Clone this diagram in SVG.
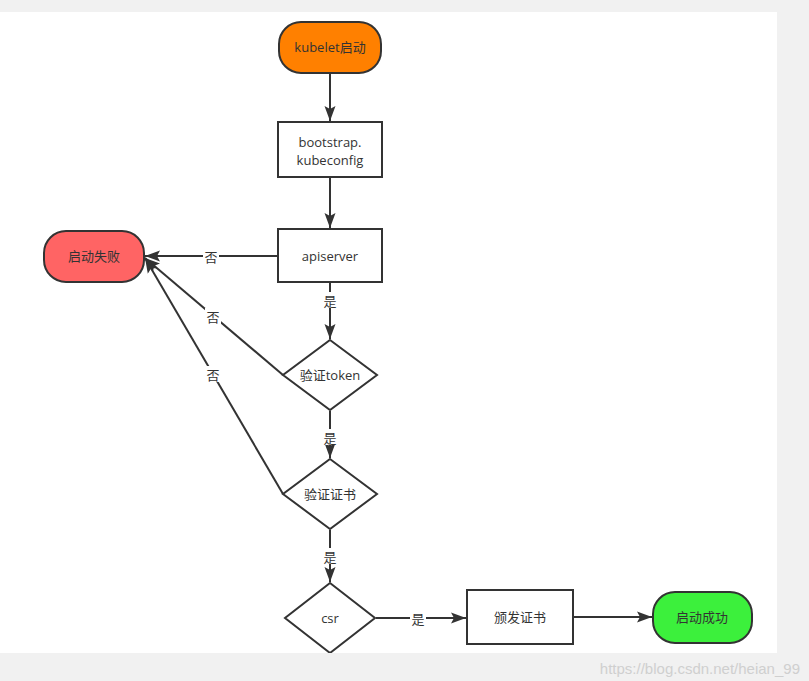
<svg xmlns="http://www.w3.org/2000/svg" width="809" height="681" viewBox="0 0 809 681">
<defs>
<marker id="arr" markerUnits="userSpaceOnUse" markerWidth="16" markerHeight="12" refX="15" refY="6" orient="auto" viewBox="0 0 16 12">
<path d="M0,0.5 L15,6 L0,11.5 L3,6 z" fill="#333"/>
</marker>
<style>
.ln{fill:none;stroke:#333;stroke-width:2;marker-end:url(#arr)}
.bx{stroke:#333;stroke-width:2}
.t{font-family:"Open Sans","Noto Sans","Noto Sans CJK SC",sans-serif;font-size:13px;fill:#333;text-anchor:middle;dominant-baseline:central}
.lb{font-family:"Noto Sans CJK SC","Noto Sans",sans-serif;font-size:13px;fill:#333;text-anchor:middle;dominant-baseline:central}
</style>
</defs>
<rect x="0" y="0" width="809" height="681" fill="#f1f1f1"/>
<rect x="0" y="12" width="777" height="641" fill="#ffffff"/>
<g id="connectors">
<line class="ln" x1="330" y1="74" x2="330" y2="121"/>
<line class="ln" x1="330" y1="178" x2="330" y2="228"/>
<line class="ln" x1="330" y1="283" x2="330" y2="339"/>
<line class="ln" x1="330" y1="411" x2="330" y2="458"/>
<line class="ln" x1="330" y1="530" x2="330" y2="582"/>
<line class="ln" x1="376" y1="618" x2="466" y2="618"/>
<line class="ln" x1="574" y1="617" x2="652" y2="617"/>
<line class="ln" x1="277" y1="256" x2="145" y2="256"/>
<line class="ln" x1="283" y1="375" x2="145" y2="258"/>
<line class="ln" x1="283" y1="494" x2="145" y2="258"/>
<g>
<rect x="322" y="292" width="16" height="16" fill="#fff"/><text class="lb" x="330" y="300">是</text>
<rect x="322" y="429" width="16" height="16" fill="#fff"/><text class="lb" x="330" y="437">是</text>
<rect x="322" y="548" width="16" height="16" fill="#fff"/><text class="lb" x="330" y="556">是</text>
<rect x="410" y="610" width="16" height="16" fill="#fff"/><text class="lb" x="418" y="618">是</text>
<rect x="203" y="248" width="16" height="16" fill="#fff"/><text class="lb" x="211" y="256">否</text>
<rect x="205" y="308" width="16" height="16" fill="#fff"/><text class="lb" x="213" y="316">否</text>
<rect x="205" y="366" width="16" height="16" fill="#fff"/><text class="lb" x="213" y="374">否</text>
</g>
</g>
<g id="kubelet">
<rect class="bx" x="279" y="22" width="102" height="51" rx="22" ry="22" fill="#ff8000"/>
<text class="t" x="330" y="47">kubelet启动</text>
</g>
<g id="bootstrap">
<rect class="bx" x="278" y="122" width="104" height="55" fill="#fff"/>
<text class="t" x="330" y="142">bootstrap.</text>
<text class="t" x="330" y="160">kubeconfig</text>
</g>
<g id="apiserver">
<rect class="bx" x="278" y="229" width="104" height="53" fill="#fff"/>
<text class="t" x="330" y="256">apiserver</text>
</g>
<g id="fail">
<rect class="bx" x="44" y="231" width="100" height="51" rx="22" ry="22" fill="#ff6464"/>
<text class="t" x="94" y="256">启动失败</text>
</g>
<g id="token">
<polygon class="bx" points="330,340 377,375 330,410 283,375" fill="#fff"/>
<text class="t" x="330" y="375">验证token</text>
</g>
<g id="cert">
<polygon class="bx" points="330,459 377,494 330,529 283,494" fill="#fff"/>
<text class="t" x="330" y="494">验证证书</text>
</g>
<g id="csr">
<polygon class="bx" points="330,583 375,618 330,653 285,618" fill="#fff"/>
<text class="t" x="330" y="618">csr</text>
</g>
<g id="issue">
<rect class="bx" x="467" y="590" width="106" height="54" fill="#fff"/>
<text class="t" x="520" y="617">颁发证书</text>
</g>
<g id="success">
<rect class="bx" x="653" y="592" width="99" height="51" rx="22" ry="22" fill="#3cf03c"/>
<text class="t" x="702" y="617">启动成功</text>
</g>
<rect x="0" y="653" width="809" height="28" fill="#f1f1f1"/>
<text x="800" y="668" font-family="'Liberation Sans Narrow','Liberation Sans',sans-serif" font-size="15" fill="#cfcfcf" text-anchor="end" dominant-baseline="central">https://blog.csdn.net/heian_99</text>
</svg>
